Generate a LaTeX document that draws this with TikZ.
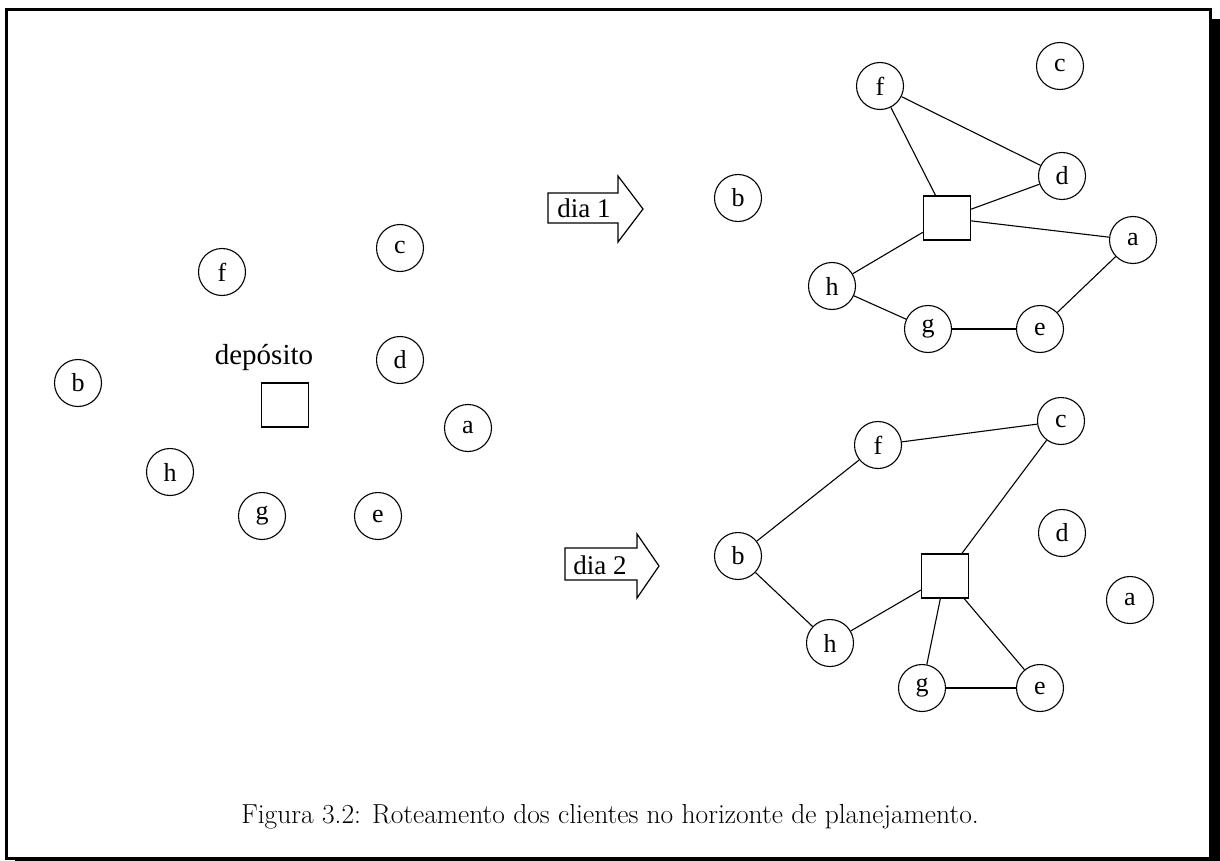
\documentclass[tikz,border=0pt]{standalone}
\usepackage{fontspec}
\newfontfamily\figfont{Liberation Serif}
\usetikzlibrary{shapes}

\begin{document}
\begin{tikzpicture}[x=1pt,y=1pt,yscale=-1,xscale=1,
    client/.style={circle,draw,line width=1.1pt,minimum size=47pt,inner sep=0pt,font=\figfont\fontsize{26}{28}\selectfont},
    depot/.style={rectangle,draw,line width=1.3pt,minimum width=47pt,minimum height=44pt,inner sep=0pt},
    route/.style={line width=1.1pt},
    dayarrow/.style={line width=1.2pt,line join=miter}]
    \useasboundingbox (0,0) rectangle (1220,861);

    %Frame with shadow
    \draw [line width=3pt] (6.5,9.5) rectangle (1210.5,858.5) ;
    \fill (1212,19) rectangle (1220,861) ;
    \fill (15,860) rectangle (1220,861) ;

    %Left: clients and depot
    \node [client] (lf) at (222,272) {f};
    \node [client] (lc) at (400,248) {c};
    \node [client] (lb) at (78,383) {b};
    \node [client] (ld) at (400,360) {d};
    \node [client] (la) at (468,428) {a};
    \node [client] (lh) at (170,472) {h};
    \node [client] (lg) at (262,516) {g};
    \node [client] (le) at (378,516) {e};
    \node [depot] (ldep) at (285,405) {};
    % Text Node
    \node [font=\figfont\fontsize{29}{31}\selectfont] (ldeplabel) at (264,358) {depósito};

    %Arrow: day 1
    \node [font=\figfont\fontsize{27}{29}\selectfont] (dia1) at (584,208) {dia 1};
    \draw [dayarrow] (548,193) -- (618,193) -- (618,176) -- (643,209) -- (618,242) -- (618,223) -- (548,223) -- cycle ;

    %Day 1 route
    \node [client] (af) at (880,86) {f};
    \node [client] (ac) at (1060,66) {c};
    \node [client] (ab) at (738,198) {b};
    \node [client] (ad) at (1062,176) {d};
    \node [client] (aa) at (1133,240) {a};
    \node [client] (ah) at (832,286) {h};
    \node [client] (ag) at (928,329) {g};
    \node [client] (ae) at (1040,329) {e};
    \node [depot] (adep) at (947,218) {};
    \draw [route] (af) -- (adep) ;
    \draw [route] (af) -- (ad) ;
    \draw [route] (adep) -- (ad) ;
    \draw [route] (adep) -- (aa) ;
    \draw [route] (adep) -- (ah) ;
    \draw [route] (ah) -- (ag) ;
    \draw [route] (ag) -- (ae) ;
    \draw [route] (ae) -- (aa) ;

    %Arrow: day 2
    \node [font=\figfont\fontsize{27}{29}\selectfont] (dia2) at (600,565) {dia 2};
    \draw [dayarrow] (565,548) -- (637,548) -- (637,534) -- (659,566) -- (637,598) -- (637,580) -- (565,580) -- cycle ;

    %Day 2 route
    \node [client] (bc) at (1061,421) {c};
    \node [client] (bf) at (878,445) {f};
    \node [client] (bb) at (738,556) {b};
    \node [client] (bd) at (1062,533) {d};
    \node [client] (ba) at (1130,600) {a};
    \node [client] (bh) at (830,643) {h};
    \node [client] (bg) at (922,688) {g};
    \node [client] (be) at (1040,688) {e};
    \node [depot] (bdep) at (945,576) {};
    \draw [route] (bf) -- (bc) ;
    \draw [route] (bf) -- (bb) ;
    \draw [route] (bb) -- (bh) ;
    \draw [route] (bh) -- (bdep) ;
    \draw [route] (bdep) -- (bc) ;
    \draw [route] (bdep) -- (bg) ;
    \draw [route] (bdep) -- (be) ;
    \draw [route] (bg) -- (be) ;

    % Caption
    \node [font=\fontsize{27.5}{32}\selectfont] (caption) at (610,817) {Figura 3.2: Roteamento dos clientes no horizonte de planejamento.};
\end{tikzpicture}
\end{document}
